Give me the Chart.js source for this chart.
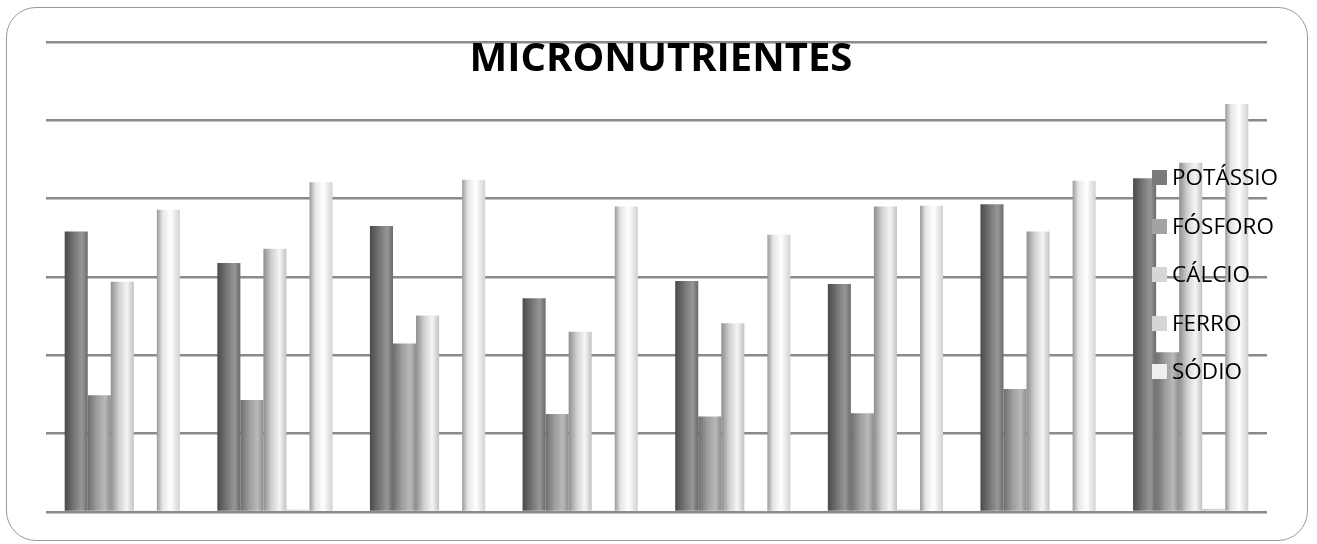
<!DOCTYPE html>
<html lang="pt">
<head>
<meta charset="utf-8">
<title>MICRONUTRIENTES</title>
<script src="https://cdn.jsdelivr.net/npm/chart.js@4.4.1/dist/chart.umd.min.js"></script>
<style>
  html, body { margin: 0; padding: 0; background: #fff; }
  #wrap { position: relative; width: 1317px; height: 544px; overflow: hidden; }
  #moldura {
    position: absolute; left: 6px; top: 7px; width: 1302px; height: 534px;
    border: 1px solid #9a9a9a; border-radius: 30px; box-sizing: border-box;
  }
  canvas { position: absolute; left: 0; top: 0; }
  #titulo {
    position: absolute; left: 0; width: 1322px; top: 31px; text-align: center;
    font: bold 40px "Open Sans", "Liberation Sans", sans-serif; color: #000;
    line-height: 50px;
  }
  #legenda { position: absolute; left: 1152px; top: 164px; margin: 0; padding: 0; list-style: none; }
  #legenda li {
    height: 48.5px; display: flex; align-items: flex-start;
    font: 22.5px "Open Sans", "Liberation Sans", sans-serif; color: #000; line-height: 26px;
  }
  #legenda span.cx { width: 15px; height: 15px; margin: 6px 5px 0 0; display: inline-block; flex: none; }
</style>
</head>
<body>
<div id="wrap">
  <div id="moldura"></div>
  <canvas id="grafico" width="1317" height="544"></canvas>
  <div id="titulo">MICRONUTRIENTES</div>
  <ul id="legenda"></ul>
</div>
<script>
// dados (uma linha de grade = 100)
const categorias = ['1', '2', '3', '4', '5', '6', '7', '8'];
const series = ['POTÁSSIO', 'FÓSFORO', 'CÁLCIO', 'FERRO', 'SÓDIO'];
const potassio = [358, 318, 365, 273, 295, 291, 393, 426];
const fosforo = [149, 143, 215, 125, 122, 126, 157, 204];
const calcio = [294, 336, 251, 230, 241, 390, 358, 446];
const ferro = [2, 3, 2, 2, 1, 3, 2, 4];
const sodio = [386, 421, 424, 390, 354, 391, 423, 521];

const cores = ['#7a7a7a', '#a3a3a3', '#d6d6d6', '#d6d6d6', '#efefef'];
// degradê horizontal de cada série (efeito cilindro do Excel)
const degrades = [
    [[0, '#4a4a4a'], [0.45, '#7a7a7a'], [0.75, '#979797'], [1, '#6a6a6a']],
    [[0, '#6e6e6e'], [0.4, '#9e9e9e'], [0.75, '#b9b9b9'], [1, '#8c8c8c']],
    [[0, '#8e8e8e'], [0.35, '#d0d0d0'], [0.7, '#f5f5f5'], [1, '#c2c2c2']],
    [[0, '#c8c8c8'], [1, '#d8d8d8']],
    [[0, '#9a9a9a'], [0.25, '#e6e6e6'], [0.6, '#ffffff'], [1, '#d2d2d2']],
];

const valores = [potassio, fosforo, calcio, ferro, sodio];

const pluginDegrade = {
    id: 'degrade',
    beforeDatasetsDraw(chart) {
        const ctx = chart.ctx;
        chart.data.datasets.forEach((ds, i) => {
            chart.getDatasetMeta(i).data.forEach(bar => {
                const g = ctx.createLinearGradient(bar.x - bar.width / 2, 0, bar.x + bar.width / 2, 0);
                degrades[i].forEach(([p, c]) => g.addColorStop(p, c));
                bar.options = Object.assign({}, bar.options, { backgroundColor: g });
            });
        });
    }
};

const chart = new Chart(document.getElementById('grafico'), {
    type: 'bar',
    data: {
        labels: categorias,
        datasets: series.map((nome, i) => ({
            label: nome,
            data: valores[i],
            backgroundColor: cores[i],
            borderWidth: 0,
            barPercentage: 1.0,
            categoryPercentage: 0.755,
        })),
    },
    options: {
        responsive: false,
        animation: false,
        layout: { padding: { left: 46, right: 50, top: 42, bottom: 32 } },
        plugins: {
            legend: { display: false },
            title: { display: false },
            tooltip: { enabled: false },
        },
        scales: {
            x: { display: false },
            y: {
                min: 0,
                max: 600,
                ticks: { display: false, stepSize: 100 },
                grid: { color: '#8a8a8a', lineWidth: 2.5, drawTicks: false },
                border: { display: false },
            },
        },
    },
    plugins: [pluginDegrade],
});

// legenda em HTML, sobreposta ao gráfico como no original
const ul = document.getElementById('legenda');
chart.data.datasets.forEach((ds, i) => {
    const li = document.createElement('li');
    li.innerHTML = '<span class="cx" style="background:' + cores[i] + '"></span>' + ds.label;
    ul.appendChild(li);
});
</script>
</body>
</html>
